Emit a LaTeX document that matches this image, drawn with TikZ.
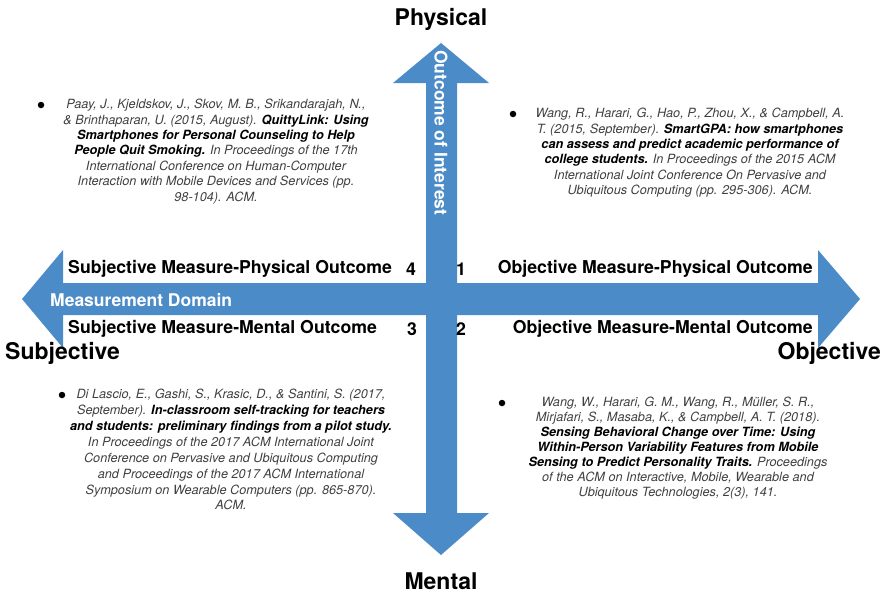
\documentclass[tikz,border=0pt]{standalone}
\usepackage{fontspec}
\setmainfont{TeX Gyre Heros}
\definecolor{arrowblue}{RGB}{75,139,200}
\definecolor{citegray}{RGB}{64,64,64}
\newcommand{\bt}[1]{{\bfseries\color{black}#1}}
\tikzset{
  big/.style={font=\fontsize{23}{27}\selectfont\bfseries, text=black, inner sep=0pt},
  quad/.style={font=\fontsize{17.7}{20}\selectfont\bfseries, text=black, inner sep=0pt},
  axislabel/.style={font=\fontsize{17.5}{20}\selectfont\bfseries, text=white, inner sep=0pt},
  cite/.style={font=\fontsize{12.7}{15.4}\selectfont\itshape, text=citegray, align=center, inner sep=0pt, anchor=north},
  bul/.style={circle, fill=black, inner sep=0pt, minimum size=6.5pt},
  crossarrow/.style={fill=arrowblue, draw=none}
}
\begin{document}
\begin{tikzpicture}[x=1pt,y=-1pt]
\useasboundingbox (0,0) rectangle (882,594);
% the cross of arrows
\fill[crossarrow] (441,43) -- (489,83) -- (457,83) -- (457,283) -- (818,283) -- (818,250)
  -- (860,299) -- (818,348) -- (818,315) -- (457,315) -- (457,513) -- (489,513)
  -- (441,555) -- (393,513) -- (426,513) -- (426,315) -- (63,315) -- (63,348)
  -- (22,299) -- (63,250) -- (63,283) -- (426,283) -- (426,83) -- (393,83) -- cycle;
% axis ends
\node[big] (phys) at (441,19) {Physical};
\node[big] (ment) at (441,581) {Mental};
\node[big, anchor=west] (subj) at (5,353) {Subjective};
\node[big, anchor=east] (obj) at (881,353) {Objective};
% axis names
\node[axislabel, rotate=-90, anchor=west] (ooi) at (441,50) {Outcome of Interest};
\node[axislabel, anchor=west] (md) at (50,300) {Measurement Domain};
% quadrant labels
\node[quad, anchor=west] (q4l) at (68,269) {Subjective Measure-Physical Outcome};
\node[quad] (q4) at (411,269) {4};
\node[quad] (q1) at (461,269) {1};
\node[quad, anchor=east] (q1l) at (813,269) {Objective Measure-Physical Outcome};
\node[quad, anchor=west] (q3l) at (68,329) {Subjective Measure-Mental Outcome};
\node[quad] (q3) at (412,329) {3};
\node[quad] (q2) at (461,329) {2};
\node[quad, anchor=east] (q2l) at (813,329) {Objective Measure-Mental Outcome};
% citations
\node[bul] (b4) at (41,105) {};
\node[cite] (c4) at (216,99) {Paay, J., Kjeldskov, J., Skov, M. B., Srikandarajah, N.,\\
\& Brinthaparan, U. (2015, August). \bt{QuittyLink: Using}\\
\bt{Smartphones for Personal Counseling to Help}\\
\bt{People Quit Smoking.} In Proceedings of the 17th\\
International Conference on Human-Computer\\
Interaction with Mobile Devices and Services (pp.\\
98-104). ACM.};
\node[bul] (b1) at (513,114) {};
\node[cite] (c1) at (690,108) {Wang, R., Harari, G., Hao, P., Zhou, X., \& Campbell, A.\\
T. (2015, September). \bt{SmartGPA: how smartphones}\\
\bt{can assess and predict academic performance of}\\
\bt{college students.} In Proceedings of the 2015 ACM\\
International Joint Conference On Pervasive and\\
Ubiquitous Computing (pp. 295-306). ACM.};
\node[bul] (b3) at (62,395) {};
\node[cite, font=\fontsize{12.7}{15.9}\selectfont\itshape] (c3) at (231,389) {Di Lascio, E., Gashi, S., Krasic, D., \& Santini, S. (2017,\hspace{12pt}\\
September). \bt{In-classroom self-tracking for teachers}\\
\bt{and students: preliminary findings from a pilot study.}\\
In Proceedings of the 2017 ACM International Joint\\
Conference on Pervasive and Ubiquitous Computing\\
and Proceedings of the 2017 ACM International\\
Symposium on Wearable Computers (pp. 865-870).\\
ACM.};
\node[bul] (b2) at (502,403) {};
\node[cite, font=\fontsize{12.7}{15}\selectfont\itshape] (c2) at (678,397) {Wang, W., Harari, G. M., Wang, R., Müller, S. R.,\\
Mirjafari, S., Masaba, K., \& Campbell, A. T. (2018).\\
\bt{Sensing Behavioral Change over Time: Using}\\
\bt{Within-Person Variability Features from Mobile}\\
\bt{Sensing to Predict Personality Traits.} Proceedings\\
of the ACM on Interactive, Mobile, Wearable and\\
Ubiquitous Technologies, 2(3), 141.};
\end{tikzpicture}
\end{document}
